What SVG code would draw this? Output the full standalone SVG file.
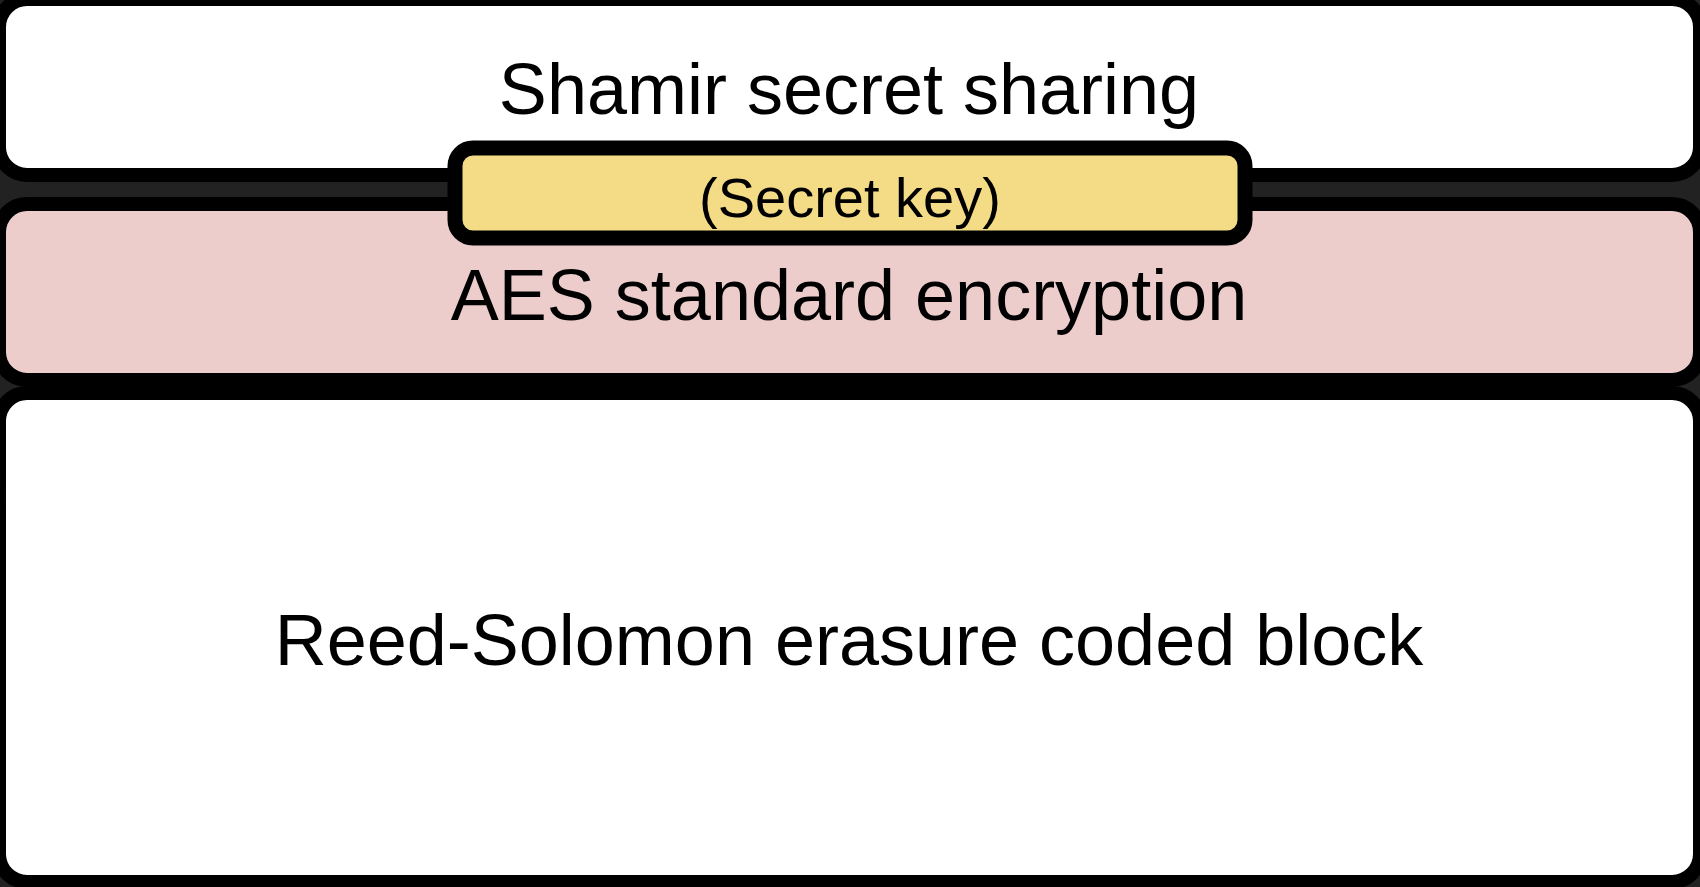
<svg xmlns="http://www.w3.org/2000/svg" width="1700" height="887" viewBox="0 0 1700 887">
<style>
.b{stroke:#000;stroke-width:14}
.t{font-family:"Liberation Sans",Arial,sans-serif;font-size:72px;fill:#000;text-anchor:middle}
</style>
<rect x="0" y="0" width="1700" height="887" fill="#222"/>
<g id="shamir"><rect class="b" x="-1" y="-1" width="1701" height="176" rx="28" fill="#fff"/>
<text class="t" x="849" y="114">Shamir secret sharing</text></g>
<g id="aes"><rect class="b" x="-1" y="204" width="1701" height="176" rx="28" fill="#ECCDCC"/>
<text class="t" x="849" y="320">AES standard encryption</text></g>
<g id="rs"><rect class="b" x="-1" y="393" width="1701" height="489" rx="28" fill="#fff"/>
<text class="t" x="849" y="665">Reed-Solomon erasure coded block</text></g>
<g id="key"><rect x="455" y="148" width="790" height="90" rx="18" fill="#F4DC87" stroke="#000" stroke-width="15"/>
<text class="t" x="850" y="217" style="font-size:56px">(Secret key)</text></g>
<g id="connectors"/>
</svg>
